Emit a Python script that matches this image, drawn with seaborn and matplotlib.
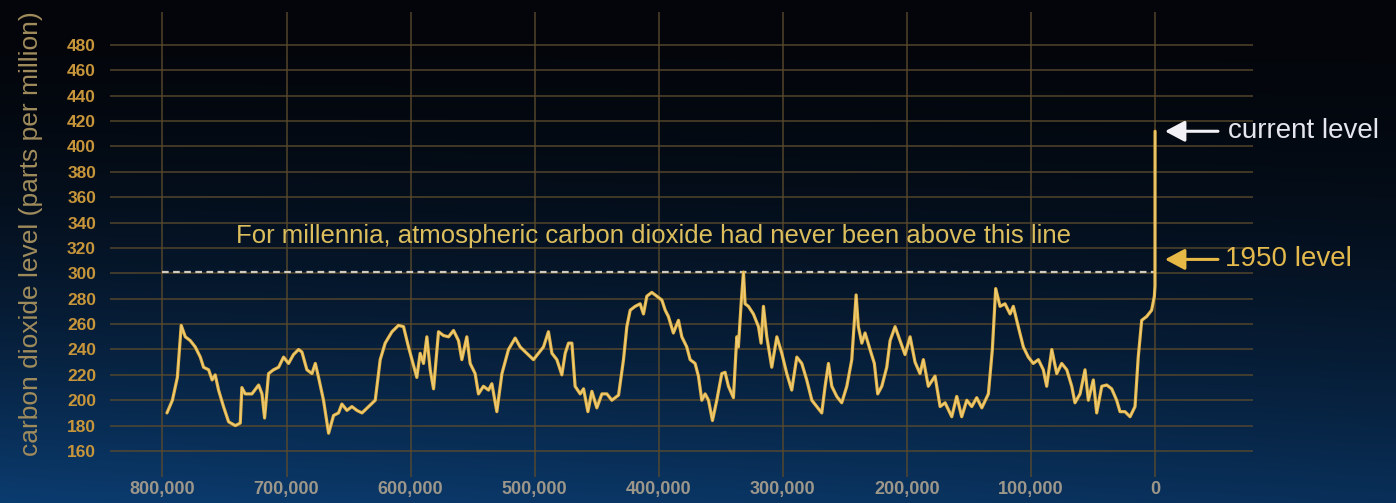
import numpy as np
import matplotlib
matplotlib.use("Agg")
import matplotlib.pyplot as plt
import seaborn as sns
import pandas as pd

# ---------------- data (thousands of years before 1950, ppm) ----------------
years_kyr = [
    796.4, 792.0, 788.0, 784.9, 781.6, 777.6, 773.6, 769.5, 766.9, 762.8,
    760.0, 757.5, 754.8, 750.8, 746.7, 741.3, 737.3, 736.0, 733.3, 727.9,
    722.5, 719.8, 717.7, 714.5, 710.5, 706.4, 702.4, 698.4, 694.4, 690.3,
    687.6, 683.6, 679.5, 676.8, 674.2, 670.2, 666.1, 662.1, 658.1, 655.4,
    651.3, 647.3, 643.3, 639.2, 633.9, 628.5, 624.5, 620.5, 615.0, 609.8,
    605.7, 601.7, 595.0, 592.3, 589.6, 586.9, 584.2, 581.5, 577.5, 573.5,
    569.4, 565.4, 561.4, 558.7, 554.7, 552.0, 548.0, 545.3, 541.3, 537.2,
    534.5, 530.5, 526.4, 521.1, 515.7, 511.7, 506.3, 501.0, 496.9, 492.9,
    488.9, 486.1, 482.1, 478.1, 475.4, 472.7, 470.0, 467.4, 463.3, 460.6,
    457.1, 453.9, 449.9, 445.8, 441.8, 437.8, 432.4, 428.4, 425.7, 423.0,
    419.0, 415.0, 412.3, 409.6, 405.6, 401.5, 397.5, 394.8, 392.2, 388.2,
    384.1, 381.4, 377.4, 374.7, 370.7, 368.0, 365.3, 362.6, 359.9, 356.7,
    353.2, 349.2, 346.5, 343.8, 339.8, 337.1, 335.8, 333.6, 331.7, 330.4,
    327.7, 323.7, 319.6, 317.5, 315.6, 312.9, 308.9, 304.8, 300.8, 296.8,
    292.8, 288.7, 284.7, 280.7, 276.6, 272.6, 268.6, 265.9, 263.2, 260.5,
    256.5, 252.5, 248.4, 244.4, 240.9, 239.1, 236.3, 233.7, 229.7, 226.2,
    223.5, 220.2, 216.2, 213.5, 209.5, 205.5, 201.5, 197.4, 193.4, 189.4,
    186.7, 182.7, 177.3, 173.2, 169.2, 163.8, 159.8, 155.8, 151.7, 147.7,
    143.7, 139.6, 134.3, 131.1, 128.4, 124.9, 120.9, 116.8, 114.2, 110.2,
    106.1, 102.1, 98.1, 94.0, 90.0, 87.3, 83.2, 79.2, 75.2, 71.1,
    67.1, 64.5, 60.4, 56.4, 53.7, 49.7, 47.0, 42.9, 38.9, 34.9,
    30.9, 28.2, 24.2, 20.1, 16.1, 13.5, 10.7, 6.7, 2.7, 0.5,
    0.0, -0.07,
]
co2_ppm = [
    190, 200, 218, 259, 250, 247, 242, 234, 226, 224,
    216, 220, 208, 195, 183, 180, 182, 210, 205, 205,
    212, 205, 186, 221, 224, 226, 234, 229, 236, 240,
    238, 224, 221, 229, 218, 200, 174, 188, 190, 197,
    192, 195, 192, 190, 195, 200, 232, 245, 254, 259,
    258, 242, 218, 237, 229, 250, 224, 209, 254, 251,
    250, 255, 247, 232, 250, 229, 221, 205, 211, 208,
    213, 191, 221, 240, 249, 242, 237, 232, 237, 242,
    254, 237, 232, 220, 237, 245, 245, 211, 205, 209,
    191, 207, 194, 205, 205, 200, 204, 232, 258, 271,
    274, 276, 268, 282, 285, 282, 279, 271, 266, 253,
    263, 250, 242, 232, 229, 219, 200, 205, 200, 184,
    200, 221, 222, 211, 202, 250, 242, 276, 301, 276,
    274, 268, 258, 245, 274, 250, 226, 250, 237, 221,
    208, 234, 229, 216, 200, 195, 190, 211, 229, 211,
    203, 198, 211, 232, 283, 258, 245, 253, 240, 229,
    205, 211, 226, 247, 258, 247, 236, 250, 230, 221,
    232, 211, 219, 195, 198, 187, 203, 187, 200, 195,
    202, 194, 205, 240, 288, 274, 276, 268, 274, 258,
    242, 234, 229, 232, 224, 211, 240, 221, 229, 224,
    211, 198, 205, 224, 200, 216, 190, 211, 212, 209,
    200, 191, 191, 187, 195, 234, 263, 266, 271, 282,
    290, 412,
]

y_ticks = list(range(160, 481, 20))
x_ticks_kyr = [800, 700, 600, 500, 400, 300, 200, 100, 0]
x_tick_labels = ["800,000", "700,000", "600,000", "500,000", "400,000",
                 "300,000", "200,000", "100,000", "0"]
threshold_ppm = 301
current_ppm = 412
level_1950_ppm = 311
y_label = "carbon dioxide level (parts per million)"
note_text = "For millennia, atmospheric carbon dioxide had never been above this line"
current_text = "current level"
level_1950_text = "1950 level"

# ---------------- style ----------------
sns.set_style("dark")
plt.rcParams['font.family'] = ['Liberation Sans', 'DejaVu Sans']

W, H = 1396, 503
fig = plt.figure(figsize=(W / 100, H / 100), dpi=100)

# background gradient
bg = fig.add_axes([0, 0, 1, 1], zorder=0)
t = np.linspace(0, 1, H)[:, None]
s = np.linspace(0, 1, W)[None, :]
top = np.array([3, 5, 10]) / 255
bottom = np.array([11, 60, 112]) / 255
f = (t ** 1.8) * (1 - 0.22 * s)
img = top + (bottom - top) * f[..., None]
bg.imshow(img, aspect='auto', extent=[0, 1, 0, 1])
bg.set_axis_off()

ax = fig.add_axes([110 / W, 1 - 477 / H, (1253 - 110) / W, (477 - 12) / H], zorder=1)
ax.set_facecolor('none')

df = pd.DataFrame({'year': np.array(years_kyr) * 1000, 'co2': co2_ppm})
sns.lineplot(data=df, x='year', y='co2', ax=ax, color='#e2b244', lw=2.3,
             sort=False, estimator=None, zorder=4)
sns.lineplot(data=df, x='year', y='co2', ax=ax, color='#f4dc98', lw=0.9,
             alpha=0.65, sort=False, estimator=None, zorder=5)

ax.set_xlim(842300, -79000)
ax.set_ylim(139.5, 506)
ax.set_xticks([v * 1000 for v in x_ticks_kyr])
ax.set_xticklabels(x_tick_labels)
ax.set_yticks(y_ticks)
ax.set_yticklabels([str(v) for v in y_ticks])
ax.grid(True, axis='both', color='#5a4a2c', lw=1.1, alpha=0.9)
for sp in ax.spines.values():
    sp.set_visible(False)
ax.tick_params(axis='y', length=0, pad=10, labelsize=12.5, labelcolor='#c8963a')
ax.tick_params(axis='x', length=0, pad=3, labelsize=13, labelcolor='#9c978a')
for lab in ax.get_yticklabels() + ax.get_xticklabels():
    lab.set_fontweight('bold')
ax.set_xlabel('')
ax.set_ylabel('')

fig.text(31 / W, 1 - 234 / H, y_label, rotation=90, ha='center', va='center',
         color='#a08c5c', fontsize=19)

# threshold dashed line
ax.plot([x_ticks_kyr[0] * 1000, x_ticks_kyr[-1] * 1000], [threshold_ppm, threshold_ppm],
        ls=(0, (3, 2)), color='#cfcbbf', lw=1.6, zorder=3)
ax.text(404100, 329.5, note_text, ha='center', va='center', color='#dcbe5c', fontsize=18.5)

# arrows and labels
def px_to_year(px):
    return (1155 - px) / 1.241 * 1000

ax.annotate('', xy=(px_to_year(1165), current_ppm), xytext=(px_to_year(1218), current_ppm),
            arrowprops=dict(arrowstyle='-|>,head_length=0.6,head_width=0.32',
                            color='#f2f2f6', lw=2.2, shrinkA=0, shrinkB=0, mutation_scale=20),
            annotation_clip=False)
ax.text(px_to_year(1228), current_ppm, current_text, ha='left', va='center',
        color='#e6e6ee', fontsize=20, clip_on=False)

ax.annotate('', xy=(px_to_year(1165), level_1950_ppm), xytext=(px_to_year(1218), level_1950_ppm),
            arrowprops=dict(arrowstyle='-|>,head_length=0.6,head_width=0.32',
                            color='#e6b846', lw=2.2, shrinkA=0, shrinkB=0, mutation_scale=20),
            annotation_clip=False)
ax.text(px_to_year(1225), level_1950_ppm, level_1950_text, ha='left', va='center',
        color='#e3b84c', fontsize=20, clip_on=False)

fig.savefig('out.png', dpi=100)
